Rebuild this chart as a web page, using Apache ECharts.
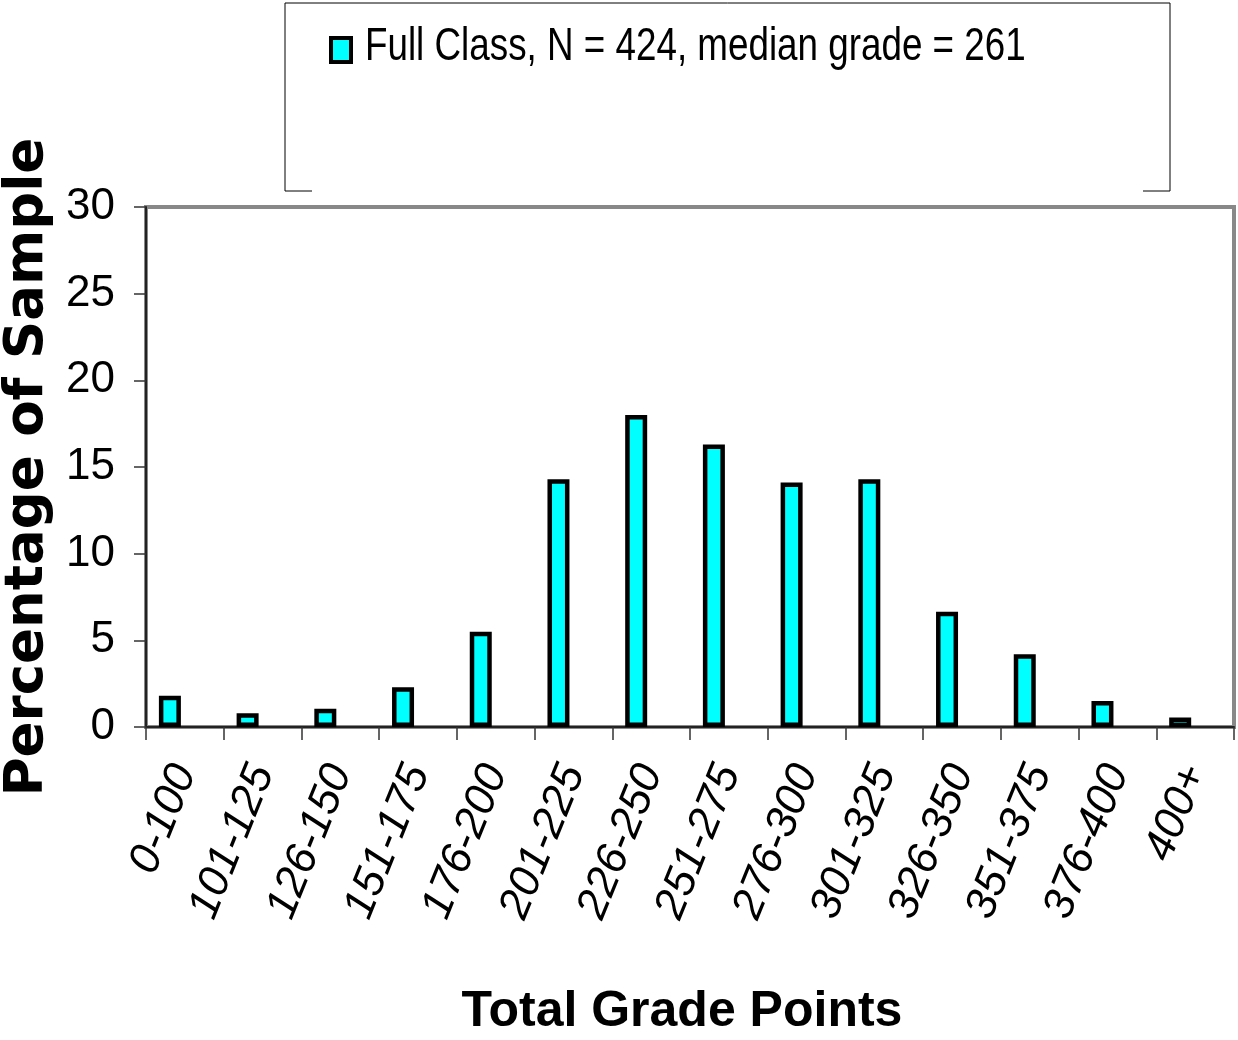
<!DOCTYPE html>
<html>
<head>
<meta charset="utf-8">
<script src="https://cdn.jsdelivr.net/npm/echarts@6/dist/echarts.min.js"></script>
<style>
html,body{margin:0;padding:0;background:#fff;}
#chart{width:1238px;height:1040px;}
</style>
</head>
<body>
<div id="chart"></div>
<script>
const categories = ['0-100','101-125','126-150','151-175','176-200','201-225','226-250','251-275','276-300','301-325','326-350','351-375','376-400','400+'];
const fullClass = [1.8, 0.8, 1.05, 2.3, 5.5, 14.3, 18.0, 16.3, 14.1, 14.3, 6.65, 4.2, 1.5, 0.55];
const emptySeries = [0,0,0,0,0,0,0,0,0,0,0,0,0,0];
const yTicks = [0, 5, 10, 15, 20, 25, 30];
const seriesName = 'Full Class, N = 424, median grade = 261';
const xTitle = 'Total Grade Points';
const yTitle = 'Percentage of Sample';

const SANS = '"Liberation Sans", Arial, sans-serif';

const chart = echarts.init(document.getElementById('chart'), null, {renderer: 'canvas'});
chart.setOption({
  animation: false,
  backgroundColor: '#fff',
  legend: {
    data: [seriesName],
    left: 285, top: 3,
    orient: 'horizontal',
    padding: [33, 814, 127, 44],
    borderColor: '#000',
    borderWidth: 1,
    itemWidth: 20,
    itemHeight: 24,
    icon: 'rect',
    selectedMode: false,
    formatter: function () { return ''; },
    itemStyle: {color: '#00FFFF', borderColor: '#000', borderWidth: 4},
    textStyle: {fontFamily: SANS, fontSize: 10, lineHeight: 24, color: '#000'}
  },
  graphic: [{
    type: 'rect', z: 100,
    shape: {x: 312, y: 186, width: 831, height: 8},
    style: {fill: '#fff'}, silent: true
  }, {
    type: 'text', z: 100,
    x: 365, y: 47, scaleX: 0.8, scaleY: 1,
    style: {text: seriesName, x: 0, y: 0, fontFamily: SANS, fontSize: 46, fill: '#000', verticalAlign: 'middle', align: 'left'},
    silent: true
  }],
  grid: {
    left: 146, right: 4, top: 207, bottom: 313,
    outerBoundsMode: 'none',
    containLabel: false,
    show: true, borderColor: '#888', borderWidth: 4, backgroundColor: '#fff'
  },
  xAxis: {
    type: 'category',
    data: categories,
    boundaryGap: true,
    name: xTitle,
    nameLocation: 'middle',
    nameGap: 260,
    nameTextStyle: {fontFamily: SANS, fontWeight: 'bold', fontSize: 50, color: '#000', padding: [0,16,0,0]},
    axisLine: {show: true, lineStyle: {color: '#222', width: 2}},
    axisTick: {show: true, length: 13, lineStyle: {color: '#333', width: 1.5}},
    axisLabel: {
      interval: 0, rotate: 68, margin: 40,
      fontFamily: SANS, fontStyle: 'italic', fontSize: 44, color: '#000'
    },
    splitLine: {show: false}
  },
  yAxis: {
    type: 'value',
    min: yTicks[0], max: yTicks[yTicks.length-1], interval: 5,
    name: yTitle,
    nameLocation: 'middle',
    nameRotate: 90,
    nameGap: 89,
    nameTextStyle: {fontFamily: '"DejaVu Sans", sans-serif', fontWeight: 'bold', fontSize: 53, color: '#000'},
    axisLine: {show: true, lineStyle: {color: '#222', width: 2}},
    axisTick: {show: true, length: 12, lineStyle: {color: '#333', width: 1.5}},
    axisLabel: {margin: 31, fontFamily: SANS, fontSize: 44, color: '#000'},
    splitLine: {show: false}
  },
  series: [{
    name: seriesName,
    type: 'bar',
    data: fullClass,
    barWidth: 22,
    barGap: '36%',
    itemStyle: {color: '#00FFFF', borderColor: '#000', borderWidth: 4.5}
  }, {
    name: '_empty',
    type: 'bar',
    data: emptySeries,
    barWidth: 22,
    silent: true,
    itemStyle: {color: 'rgba(0,0,0,0)', borderWidth: 0}
  }]
});
</script>
</body>
</html>
